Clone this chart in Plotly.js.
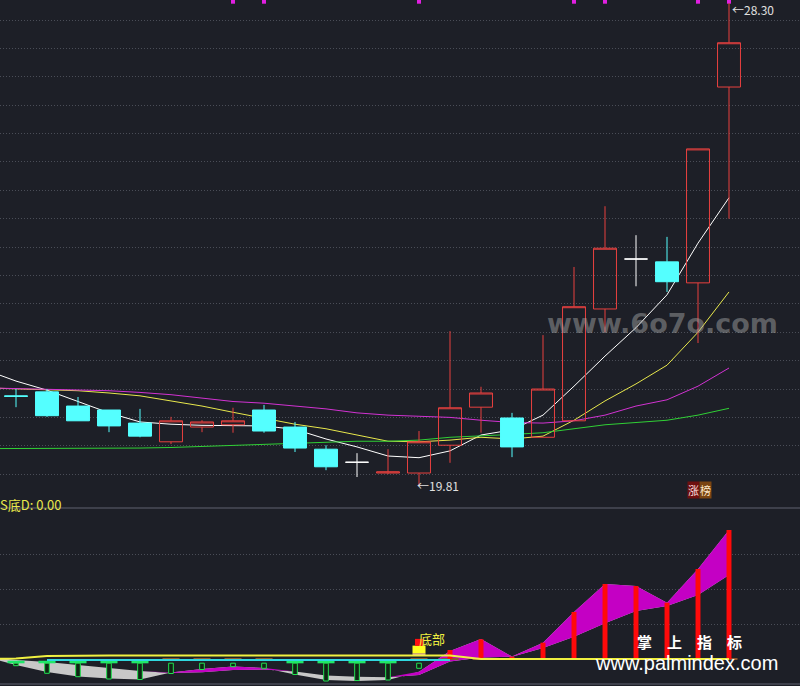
<!DOCTYPE html>
<html><head><meta charset="utf-8">
<script src="https://cdn.plot.ly/plotly-3.0.1.min.js"></script>
<style>html,body{margin:0;padding:0;background:#1d1f27;}#chart{width:800px;height:686px;}</style>
</head><body><div id="chart"></div>
<script>
// ---------------- data (upper panel: daily candles) ----------------
const candleIdx = [0,1,2,3,4,5,6,7,8,9,10,11,12,13,14,15,16,17,18,19,20,21,22,23];
const openP  = [21.38,21.45,21.20,21.13,20.90,20.57,20.83,20.87,21.13,20.83,20.44,20.21,20.02,20.02,20.51,21.18,20.99,20.65,20.94,22.91,23.79,23.74,23.37,26.82];
const highP  = [21.50,21.50,21.36,21.13,21.15,21.01,20.95,21.17,21.22,20.92,20.51,20.37,20.44,20.76,22.52,21.54,21.08,22.45,23.65,24.72,24.21,24.18,25.73,28.30];
const lowP   = [21.18,21.01,20.94,20.74,20.65,20.53,20.74,20.73,20.73,20.39,20.07,19.95,20.00,19.81,20.20,20.73,20.30,20.65,20.94,22.50,23.31,23.21,22.31,24.50];
const closeP = [21.37,21.03,20.94,20.85,20.67,20.94,20.92,20.94,20.76,20.46,20.13,20.21,20.04,20.57,21.17,21.43,20.48,21.50,22.95,23.98,23.79,23.39,25.73,27.60];

// moving averages (first point is the bar just left of the view)
const maIdx = [-1,0,1,2,3,4,5,6,7,8,9,10,11,12,13,14,15,16,17,18,19,20,21,22,23];
const maWhite   = [21.84,21.64,21.48,21.28,21.08,20.92,20.88,20.86,20.86,20.85,20.79,20.62,20.48,20.32,20.29,20.41,20.69,20.78,21.04,21.55,22.08,22.58,23.16,24.07,24.87];
const maYellow  = [21.52,21.50,21.48,21.47,21.43,21.38,21.29,21.20,21.09,20.99,20.88,20.80,20.69,20.58,20.57,20.60,20.65,20.62,20.67,20.95,21.29,21.59,21.92,22.50,23.21];
const maMagenta = [21.52,21.51,21.50,21.49,21.47,21.44,21.40,21.34,21.28,21.25,21.20,21.15,21.08,21.04,21.02,21.00,20.95,20.91,20.90,20.94,21.04,21.20,21.31,21.55,21.87];
const maGreen   = [20.45,20.45,20.45,20.45,20.46,20.46,20.47,20.49,20.51,20.53,20.55,20.57,20.58,20.58,20.60,20.65,20.67,20.70,20.73,20.80,20.87,20.91,20.95,21.04,21.16];

const topSignalIdx = [7,8,13,18,19,22,23];
const priceGrid = [20,20.5,21,21.5,22,22.5,23,23.5,24,24.5,25,25.5,26,26.5,27,27.5,28];

// ---------------- data (lower panel: S底D indicator) ----------------
const fastLine = [0.57,-1.71,-3.71,-5.0,-5.57,-5.86,-3.86,-2.86,-2.14,-2.57,-4.43,-6.0,-6.29,-6.0,-3.63,2.29,5.71,0.71,4.66,13.43,21.43,20.86,16.09,25.71,36.86];
const slowLine = [0.86,-0.29,-0.86,-1.71,-2.57,-3.43,-4.0,-3.80,-3.14,-3.0,-3.57,-4.71,-5.06,-5.23,-4.57,-0.71,0.43,0.63,3.14,6.37,10.2,13.71,15.14,18.29,24.0];
const yellowLine = [0,0.14,0.86,1,1,1,1,1,1,1,1,1,1,1,1,1,0,0,0,0,0,0,0,0,0];
const cyanIdx = [1,2,3,4,5,6,7,8,9,10,11,12,13,14];
const cyanLine = [-0.29,-0.29,-0.29,-0.29,-0.29,-0.29,-0.29,-0.29,-0.29,-0.29,-0.29,-0.29,-0.29,-0.29];
const greenBarIdx = [0,1,2,3,4,5,6,7,8,9,10,11,12,13];
const greenBarDepth = [-1.91,-4.09,-5.06,-5.71,-5.86,-4.14,-3.0,-2.2,-2.66,-4.43,-6.29,-6.14,-6.0,-2.66];
const redBarIdx = [14,15,16,17,18,19,20,21,22,23];
const redBarVal = [2.57,5.63,0.66,4.66,13.43,21.43,20.86,16.09,25.71,36.86];
const bottomSignalIdx = [13];
const lowerGrid = [10,20,30];

// ---------------- layout constants ----------------
const X_RANGE = [-0.516, 25.29];
const P_RANGE = [19.404, 28.353];
const V_RANGE = [-7.714, 42.857];
const BG = '#1d1f27';
const RED = '#e8403f', CYAN = '#54ffff';

const traces = [];
[[maWhite,'#ffffff'],[maYellow,'#e8e84c'],[maMagenta,'#d232d2'],[maGreen,'#30d035']].forEach(([ys,c])=>{
  traces.push({type:'scatter',mode:'lines',x:maIdx,y:ys,xaxis:'x',yaxis:'y',line:{color:c,width:1},hoverinfo:'skip'});
});
traces.push({type:'scatter',mode:'markers',x:topSignalIdx,y:topSignalIdx.map(()=>P_RANGE[1]-0.03),xaxis:'x',yaxis:'y',
  marker:{symbol:'square',size:4,color:'#e020e0'},cliponaxis:false,hoverinfo:'skip'});

function pick(cond){
  const ids = candleIdx.filter(i=>cond(openP[i],closeP[i]));
  return {x:ids.map(i=>candleIdx[i]),open:ids.map(i=>openP[i]),high:ids.map(i=>highP[i]),low:ids.map(i=>lowP[i]),close:ids.map(i=>closeP[i])};
}
const up = pick((o,c)=>c>o), dn = pick((o,c)=>c<o), dj = pick((o,c)=>c===o);
traces.push(Object.assign({type:'candlestick',xaxis:'x',yaxis:'y3',whiskerwidth:0,hoverinfo:'skip',
  increasing:{line:{color:RED,width:1},fillcolor:'rgba(0,0,0,0)'},decreasing:{line:{color:RED,width:1},fillcolor:'rgba(0,0,0,0)'}},up));
traces.push(Object.assign({type:'candlestick',xaxis:'x',yaxis:'y3',whiskerwidth:0,hoverinfo:'skip',
  increasing:{line:{color:CYAN,width:1},fillcolor:CYAN},decreasing:{line:{color:CYAN,width:1},fillcolor:CYAN}},dn));
traces.push(Object.assign({type:'candlestick',xaxis:'x',yaxis:'y3',whiskerwidth:0,hoverinfo:'skip',
  increasing:{line:{color:'#ffffff',width:1},fillcolor:'#ffffff'},decreasing:{line:{color:'#ffffff',width:1},fillcolor:'#ffffff'}},dj));

// lower panel ribbon: gray between the two lines, magenta where fast > slow
const upperOfPair = fastLine.map((v,i)=>Math.max(v,slowLine[i]));
traces.push({type:'scatter',mode:'lines',x:maIdx,y:slowLine,xaxis:'x',yaxis:'y2',line:{width:0,color:'#c8c8c8'},hoverinfo:'skip'});
traces.push({type:'scatter',mode:'lines',x:maIdx,y:fastLine,xaxis:'x',yaxis:'y2',line:{width:0,color:'#c8c8c8'},fill:'tonexty',fillcolor:'#c8c8c8',hoverinfo:'skip'});
traces.push({type:'scatter',mode:'lines',x:maIdx,y:slowLine,xaxis:'x',yaxis:'y2',line:{width:0,color:'#c400c4'},hoverinfo:'skip'});
traces.push({type:'scatter',mode:'lines',x:maIdx,y:upperOfPair,xaxis:'x',yaxis:'y2',line:{width:0,color:'#c400c4'},fill:'tonexty',fillcolor:'#c400c4',hoverinfo:'skip'});

// caps under each bar (green in falling phase, brown in rising phase)
const greenCapIdx = candleIdx.filter(i=>fastLine[i+1]<=slowLine[i+1]);
const brownCapIdx = candleIdx.filter(i=>fastLine[i+1]>slowLine[i+1]);
traces.push({type:'bar',x:greenCapIdx,y:greenCapIdx.map(()=>0.74),base:-1.23,width:0.55,xaxis:'x',yaxis:'y4',
  marker:{color:'#1fe86a',line:{width:0}},hoverinfo:'skip'});
traces.push({type:'bar',x:brownCapIdx,y:brownCapIdx.map(()=>0.57),base:-0.29,width:0.55,xaxis:'x',yaxis:'y4',
  marker:{color:'#8a5a30',line:{width:0}},hoverinfo:'skip'});
traces.push({type:'bar',x:greenBarIdx,y:greenBarDepth.map(d=>d+1.2),base:-1.2,width:0.15,xaxis:'x',yaxis:'y4',
  marker:{color:'#0f2414',line:{color:'#22e050',width:1}},hoverinfo:'skip'});
traces.push({type:'bar',x:redBarIdx,y:redBarVal,base:0,width:0.16,xaxis:'x',yaxis:'y4',
  marker:{color:'#ff0a0a',line:{width:0}},hoverinfo:'skip'});
traces.push({type:'bar',x:bottomSignalIdx,y:bottomSignalIdx.map(()=>0.6),base:1.05,width:0.42,xaxis:'x',yaxis:'y4',
  marker:{color:'#e8a0a0',line:{width:0}},hoverinfo:'skip'});
traces.push({type:'bar',x:bottomSignalIdx,y:bottomSignalIdx.map(()=>2.2),base:1.63,width:0.42,xaxis:'x',yaxis:'y4',
  marker:{color:'#ffff20',line:{width:0}},hoverinfo:'skip'});
traces.push({type:'bar',x:bottomSignalIdx,y:bottomSignalIdx.map(()=>2.0),base:3.75,width:0.26,xaxis:'x',yaxis:'y4',
  marker:{color:'#ff1010',line:{width:0}},hoverinfo:'skip'});
traces.push({type:'scatter',mode:'lines',x:cyanIdx,y:cyanLine,xaxis:'x',yaxis:'y4',line:{color:'#30d8e0',width:2},hoverinfo:'skip'});
traces.push({type:'scatter',mode:'lines',x:maIdx,y:yellowLine,xaxis:'x',yaxis:'y4',line:{color:'#f0f040',width:2},hoverinfo:'skip'});

// annotations
let hiI = 0, loI = 0;
candleIdx.forEach(i=>{ if(highP[i]>highP[hiI]) hiI=i; if(lowP[i]<lowP[loI]) loI=i; });
const cjk = '"Noto Sans CJK SC", "Noto Sans", sans-serif';
const annotations = [
  {x:candleIdx[hiI],y:highP[hiI],xref:'x',yref:'y',text:'←'+highP[hiI].toFixed(2),showarrow:false,xanchor:'left',yanchor:'top',xshift:1,yshift:4,font:{family:cjk,size:12,color:'#e0e0e0'}},
  {x:candleIdx[loI],y:lowP[loI],xref:'x',yref:'y',text:'←'+lowP[loI].toFixed(2),showarrow:false,xanchor:'left',yanchor:'middle',xshift:-4,yshift:-1,font:{family:cjk,size:12,color:'#e0e0e0'}},
  {x:22,y:0.2726,xref:'x',yref:'paper',text:'涨',showarrow:false,xanchor:'center',xshift:-5,bgcolor:'#6e1010',borderpad:0,font:{family:cjk,size:11,color:'#ffdede'}},
  {x:22,y:0.2726,xref:'x',yref:'paper',text:'榜',showarrow:false,xanchor:'center',xshift:7,bgcolor:'#7a4512',borderpad:0,font:{family:cjk,size:11,color:'#ffe8c8'}},
  {x:0,y:0.2478,xref:'paper',yref:'paper',text:'S底D: 0.00',showarrow:false,xanchor:'left',xshift:-2,font:{family:cjk,size:13,color:'#e8e84c'}},
  {x:bottomSignalIdx[0],y:6.0,xref:'x',yref:'y4',text:'底部',showarrow:false,xanchor:'left',xshift:-2,font:{family:cjk,size:13,color:'#f0f040'}},
  {x:662/800,y:(686-323)/686,xref:'paper',yref:'paper',text:'www.6o7o.com',showarrow:false,xanchor:'center',yanchor:'middle',font:{family:'DejaVu Sans',size:27,color:'rgba(175,175,175,0.45)',weight:'bold'}},
  {x:686/800,y:(686-662.5)/686,xref:'paper',yref:'paper',text:'www.palmindex.com',showarrow:false,xanchor:'center',yanchor:'middle',font:{family:'Liberation Sans',size:20,color:'#ffffff'}},
];
['掌','上','指','标'].forEach((ch,k)=>{
  annotations.push({x:(644+k*30)/800,y:(686-641)/686,xref:'paper',yref:'paper',text:ch,showarrow:false,xanchor:'center',yanchor:'middle',font:{family:cjk,size:15,color:'#ffffff',weight:'bold'}});
});

const gridAxis = {showticklabels:false,ticks:'',zeroline:false,showline:false,gridcolor:'#4a4d57',griddash:'1px,2px',gridwidth:1,fixedrange:true};
const layout = {
  width:800,height:686,margin:{l:0,r:0,t:0,b:0,pad:0},
  paper_bgcolor:BG,plot_bgcolor:BG,showlegend:false,hovermode:false,dragmode:false,
  barmode:'overlay',boxgap:0.26,boxgroupgap:0,
  xaxis:{range:X_RANGE,visible:false,rangeslider:{visible:false},fixedrange:true},
  yaxis:Object.assign({domain:[178/686,1],range:P_RANGE,tickvals:priceGrid},gridAxis),
  yaxis2:Object.assign({domain:[0,177/686],range:V_RANGE,tickvals:lowerGrid},gridAxis),
  yaxis3:{overlaying:'y',range:P_RANGE,visible:false,fixedrange:true},
  yaxis4:{overlaying:'y2',range:V_RANGE,visible:false,fixedrange:true},
  shapes:[
    {type:'line',xref:'paper',yref:'paper',x0:0,x1:1,y0:178/686,y1:178/686,line:{color:'#4a4d58',width:1.5}},
    {type:'line',xref:'paper',yref:'paper',x0:0,x1:1,y0:2/686,y1:2/686,line:{color:'#4a4d58',width:1.5}}
  ],
  annotations:annotations
};
Plotly.newPlot('chart',traces,layout,{staticPlot:true,displayModeBar:false});
</script></body></html>
